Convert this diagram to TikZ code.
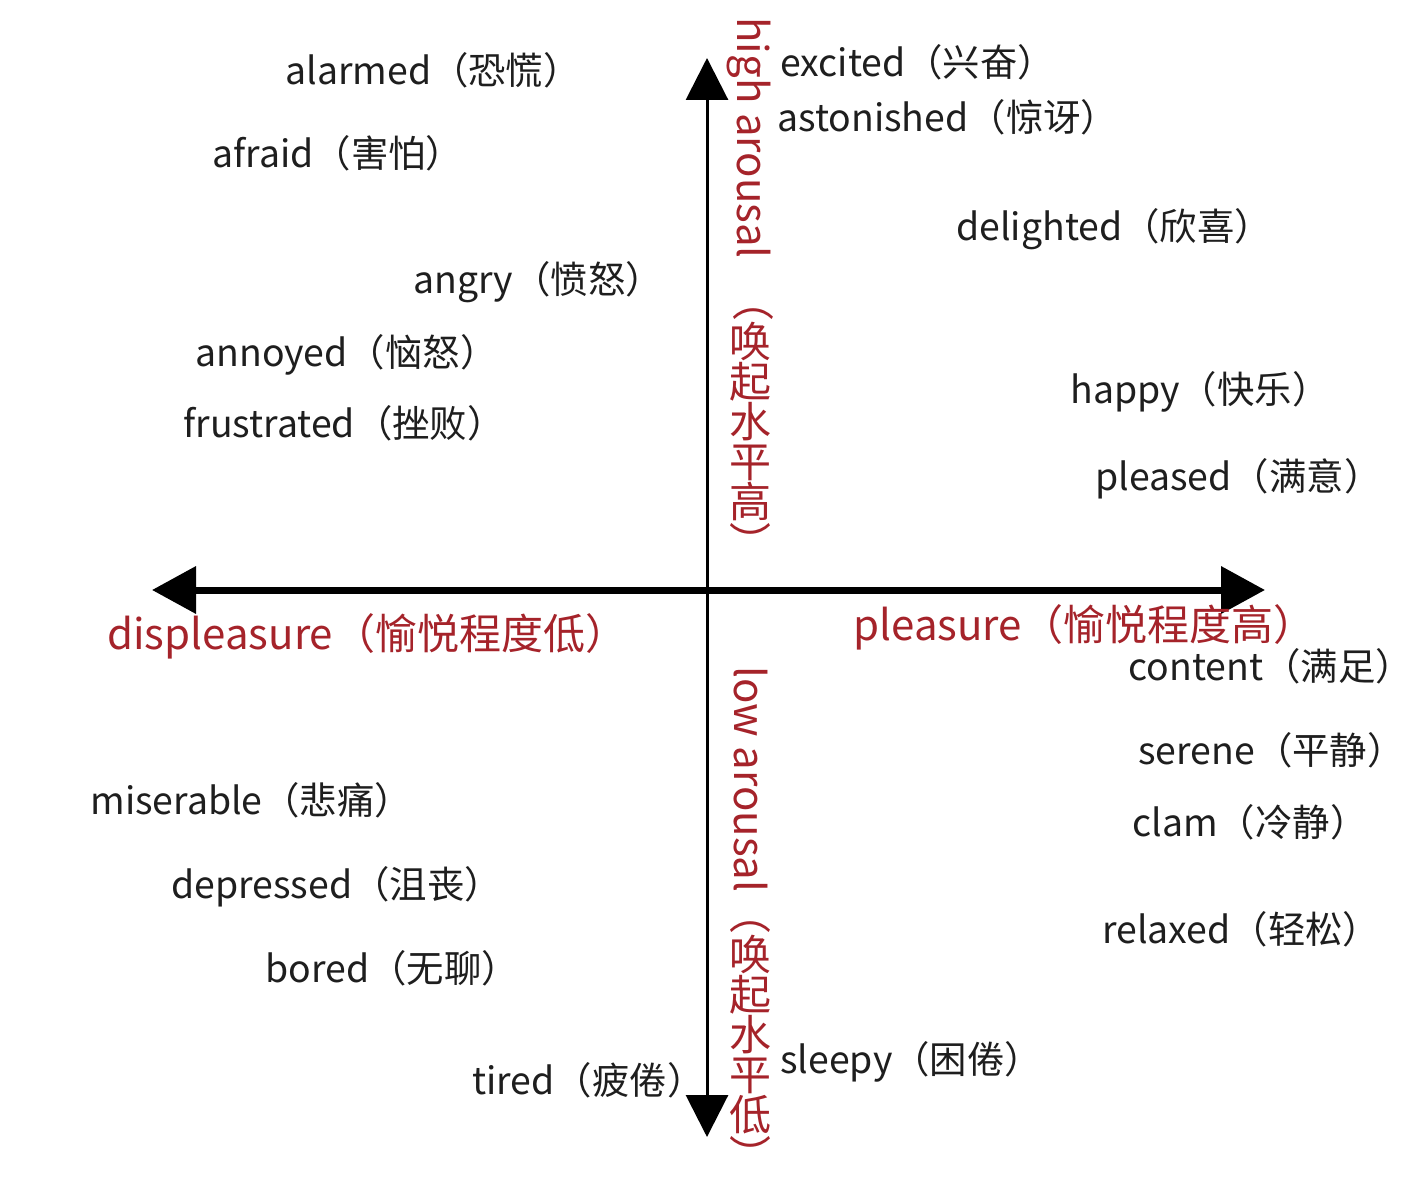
\documentclass[tikz,border=0pt]{standalone}
\usepackage{fontspec}
\setmainfont{Noto Sans CJK SC}
\usetikzlibrary{arrows.meta,positioning}
\definecolor{axisred}{HTML}{A5232A}
\definecolor{wordgray}{HTML}{1E1E1E}

\begin{document}
\begin{tikzpicture}[
    x=0.5pt, y=-0.5pt,
    word/.style={anchor=west, inner sep=0pt, text=wordgray, font=\fontsize{18.7pt}{18.7pt}\selectfont},
    axislabel/.style={inner sep=0pt, text=axisred, font=\fontsize{21pt}{20pt}\selectfont},
    vlabel/.style={axislabel, rotate=-90, anchor=west},
    haxis/.style={line width=3.5pt, {Triangle[length=22pt,width=23pt]}-{Triangle[length=22pt,width=23pt]}},
    vaxis/.style={line width=1.5pt, {Triangle[length=21pt,width=21pt]}-{Triangle[length=21pt,width=21pt]}}
]
\useasboundingbox (0,0) rectangle (1417,1182);

% Axes
\coordinate (left) at (152,590);
\coordinate (right) at (1265,590);
\coordinate (top) at (707,58);
\coordinate (bottom) at (707,1137);
\draw[haxis] (left) -- (right);
\draw[vaxis] (top) -- (bottom);

% Axis labels
\node[axislabel, anchor=west] (displeasure) at (107,636) {displeasure（愉悦程度低）};
\node[axislabel, anchor=west] (pleasure) at (853,627) {pleasure（愉悦程度高）};

\node[vlabel] (highA) at (750,17) {high arousal\hspace{0.5em}（};
\node[axislabel, align=center, anchor=north] (highB) at (highA.east) {唤\\起\\水\\平\\高};
\node[vlabel] (highC) at (highB.south) {）};

\node[vlabel] (lowA) at (750,666) {low arousal（};
\node[axislabel, align=center, anchor=north] (lowB) at (lowA.east) {唤\\起\\水\\平\\低};
\node[vlabel] (lowC) at (lowB.south) {）};

% High arousal, displeasure
\node[word] (alarmed) at (285,70) {alarmed（恐慌）};
\node[word] (afraid) at (212,153) {afraid（害怕）};
\node[word] (angry) at (413,282) {angry（愤怒）};
\node[word] (annoyed) at (195,355) {annoyed（恼怒）};
\node[word] (frustrated) at (183,423) {frustrated（挫败）};

% High arousal, pleasure
\node[word] (excited) at (780,62) {excited（兴奋）};
\node[word] (astonished) at (777,117) {astonished（惊讶）};
\node[word] (delighted) at (956,229) {delighted（欣喜）};
\node[word] (happy) at (1070,392) {happy（快乐）};
\node[word] (pleased) at (1095,479) {pleased（满意）};

% Low arousal, pleasure
\node[word] (content) at (1128,666) {content（满足）};
\node[word] (serene) at (1138,750) {serene（平静）};
\node[word] (clam) at (1132,822) {clam（冷静）};
\node[word] (relaxed) at (1102,929) {relaxed（轻松）};
\node[word] (sleepy) at (780,1062) {sleepy（困倦）};

% Low arousal, displeasure
\node[word] (miserable) at (90,800) {miserable（悲痛）};
\node[word] (depressed) at (171,887) {depressed（沮丧）};
\node[word] (bored) at (265,968) {bored（无聊）};
\node[word] (tired) at (472,1080) {tired（疲倦）};

\end{tikzpicture}
\end{document}
